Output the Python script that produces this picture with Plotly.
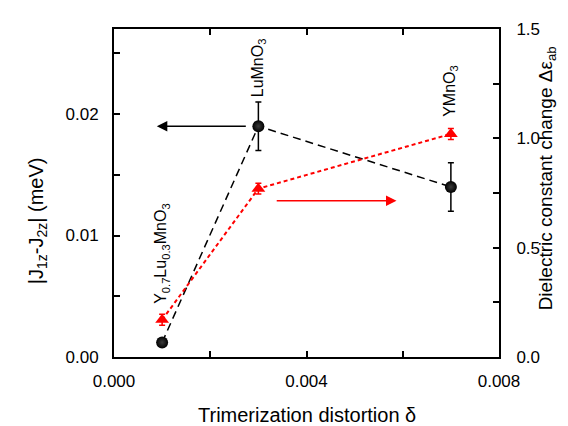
import plotly.graph_objects as go

# ---- data ----
delta = [0.001, 0.003, 0.007]
materials = ["Y<sub>0.7</sub>Lu<sub>0.3</sub>MnO<sub>3</sub>", "LuMnO<sub>3</sub>", "YMnO<sub>3</sub>"]
dJ = [0.0012, 0.019, 0.014]
dJ_err = [0.0, 0.002, 0.002]
deps = [0.17, 0.77, 1.02]
deps_err = [0.025, 0.025, 0.025]

x_ticks = [0.000, 0.004, 0.008]
y_ticks = [0.00, 0.01, 0.02]
y2_ticks = [0.0, 0.5, 1.0, 1.5]

# label placement (layout only)
label_y = [0.0085, 0.0238, 0.0219]

FONT = "Liberation Sans, Arial, sans-serif"

fig = go.Figure()

fig.add_trace(go.Scatter(
    x=delta, y=dJ, mode="lines+markers", yaxis="y",
    line=dict(color="black", width=1.5, dash="8px,5px"),
    marker=dict(symbol="circle", size=12, color="black",
                gradient=dict(type="radial", color="#3a3a3a"),
                line=dict(width=0)),
    error_y=dict(type="data", array=dJ_err, visible=True, color="black",
                 thickness=1.5, width=3),
    showlegend=False,
))

fig.add_trace(go.Scatter(
    x=delta, y=deps, mode="lines+markers", yaxis="y2",
    line=dict(color="#ff0000", width=2, dash="4px,3px"),
    marker=dict(symbol="triangle-up", size=12, color="#ff0000", line=dict(width=0)),
    error_y=dict(type="data", array=deps_err, visible=True, color="#ff0000",
                 thickness=1.5, width=3),
    showlegend=False,
))

annotations = []
for xv, yv, name in zip(delta, label_y, materials):
    annotations.append(dict(x=xv, y=yv, xref="x", yref="y", text=name,
                            textangle=-90, showarrow=False,
                            xanchor="center", yanchor="middle",
                            font=dict(family=FONT, size=16, color="black")))

# arrows pointing to the relevant axes
annotations.append(dict(x=0.00089, y=dJ[1], xref="x", yref="y",
                        ax=0.00277, ay=dJ[1], axref="x", ayref="y",
                        text="", showarrow=True, arrowhead=2, arrowsize=1.4,
                        arrowwidth=1.5, arrowcolor="black"))
annotations.append(dict(x=0.00587, y=0.715, xref="x", yref="y2",
                        ax=0.00335, ay=0.715, axref="x", ayref="y2",
                        text="", showarrow=True, arrowhead=2, arrowsize=1.4,
                        arrowwidth=1.5, arrowcolor="#ff0000"))

# axis titles
annotations.append(dict(x=0.5, y=-0.178, xref="paper", yref="paper",
                        text="Trimerization distortion δ", showarrow=False,
                        xanchor="center", yanchor="middle",
                        font=dict(family=FONT, size=20, color="black")))
annotations.append(dict(x=-0.2, y=0.414, xref="paper", yref="paper",
                        text="|J<sub>1z</sub>-J<sub>2z</sub>| (meV)", showarrow=False,
                        textangle=-90, xanchor="center", yanchor="middle",
                        font=dict(family=FONT, size=20, color="black")))
annotations.append(dict(x=1.125, y=0.545, xref="paper", yref="paper",
                        text="Dielectric constant change Δε<sub>ab</sub>", showarrow=False,
                        textangle=-90, xanchor="center", yanchor="middle",
                        font=dict(family=FONT, size=19, color="black")))

tickfont = dict(family=FONT, size=17, color="black")

fig.update_layout(
    width=568, height=426, autosize=False,
    margin=dict(l=106, r=77, t=16, b=77),
    paper_bgcolor="white", plot_bgcolor="white",
    font=dict(family=FONT, color="black"),
    annotations=annotations,
    xaxis=dict(range=[0, 0.008], tickvals=x_ticks, tickformat=".3f",
               ticks="inside", ticklen=6, tickwidth=1.5, tickcolor="black",
               minor=dict(dtick=0.002, ticks="inside", ticklen=6, tickwidth=1.5, tickcolor="black"),
               showline=True, linecolor="black", linewidth=2, mirror="ticks",
               showgrid=False, zeroline=False, tickfont=tickfont, ticklabelstandoff=8),
    yaxis=dict(range=[0, 0.027], tickvals=y_ticks, tickformat=".2f",
               ticks="inside", ticklen=6, tickwidth=1.5, tickcolor="black",
               minor=dict(dtick=0.005, ticks="inside", ticklen=6, tickwidth=1.5, tickcolor="black"),
               showline=True, linecolor="black", linewidth=2,
               showgrid=False, zeroline=False, tickfont=tickfont, ticklabelstandoff=10),
    yaxis2=dict(range=[0, 1.5], tickvals=y2_ticks, tickformat=".1f", overlaying="y", side="right",
                ticks="inside", ticklen=6, tickwidth=1.5, tickcolor="black",
                minor=dict(dtick=0.25, ticks="inside", ticklen=6, tickwidth=1.5, tickcolor="black"),
                showline=True, linecolor="black", linewidth=2,
                showgrid=False, zeroline=False, tickfont=tickfont, ticklabelstandoff=12),
)

fig.write_html("out.html")
